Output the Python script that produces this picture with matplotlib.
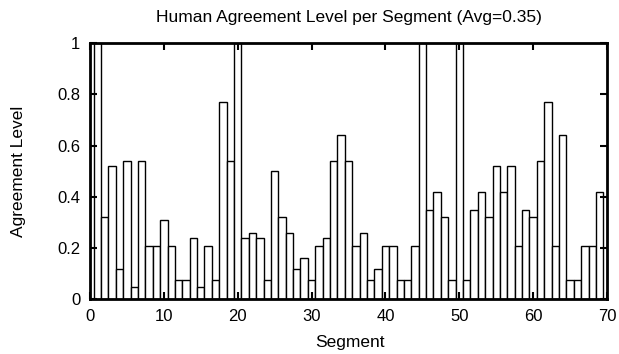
import numpy as np
import matplotlib.pyplot as plt

plt.rcParams['font.family'] = ['Liberation Sans', 'DejaVu Sans']

# agreement level for each segment 1..69
segments = list(range(1, 70))
agreement = [
    1.0, 0.32, 0.52, 0.12, 0.54, 0.05, 0.54, 0.21, 0.21, 0.31,
    0.21, 0.075, 0.075, 0.24, 0.05, 0.21, 0.075, 0.77, 0.54, 1.0,
    0.24, 0.26, 0.24, 0.075, 0.50, 0.32, 0.26, 0.12, 0.16, 0.075,
    0.21, 0.24, 0.54, 0.64, 0.54, 0.21, 0.26, 0.075, 0.12, 0.21,
    0.21, 0.075, 0.075, 0.21, 1.0, 0.35, 0.42, 0.32, 0.075, 1.0,
    0.075, 0.35, 0.42, 0.32, 0.52, 0.42, 0.52, 0.21, 0.35, 0.32,
    0.54, 0.77, 0.21, 0.64, 0.075, 0.075, 0.21, 0.21, 0.42,
]
xticks = [0, 10, 20, 30, 40, 50, 60, 70]
yticks = [0, 0.2, 0.4, 0.6, 0.8, 1]
ylabels = ['0', '0.2', '0.4', '0.6', '0.8', '1']

fig = plt.figure(figsize=(6.19, 3.54), dpi=100)
ax = fig.add_axes([0.1454, 0.1545, 0.8352, 0.7232])

ax.bar(segments, agreement, width=1.0, facecolor='white', edgecolor='black', linewidth=1.0)

ax.set_xlim(0, 70)
ax.set_ylim(0, 1)
ax.set_xticks(xticks)
ax.set_yticks(yticks)
ax.set_yticklabels(ylabels)
ax.tick_params(direction='in', top=True, right=True, length=5, width=1.5, labelsize=12)
ax.tick_params(axis='x', pad=7)
ax.tick_params(axis='y', pad=7)
for s in ax.spines.values():
    s.set_linewidth(2)

ax.set_title('Human Agreement Level per Segment (Avg=0.35)', fontsize=12.5, pad=15.5)
fig.text(349.5 / 619, 1 - 347 / 354, 'Segment', fontsize=12.5, ha='center', va='baseline')
fig.text(18.5 / 619, 0.1545 + 0.7232 / 2, 'Agreement Level', fontsize=12.5,
         rotation=90, ha='center', va='center')

plt.savefig('out.png', dpi=100)
